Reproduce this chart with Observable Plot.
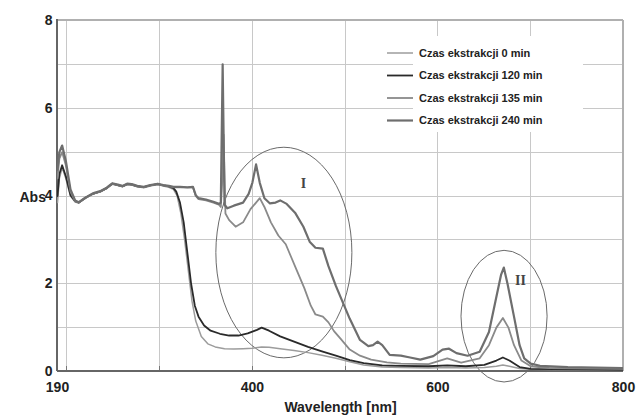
<!DOCTYPE html>
<html><head><meta charset="utf-8">
<script src="https://cdn.jsdelivr.net/npm/d3@7"></script>
<script src="https://cdn.jsdelivr.net/npm/@observablehq/plot@0.6"></script>
<style>body{margin:0;background:#fff;font-family:"Liberation Sans",Arial,sans-serif}</style>
</head><body><div id="chart"></div>
<script>
const seriesNames = ["Czas ekstrakcji 0 min","Czas ekstrakcji 120 min","Czas ekstrakcji 135 min","Czas ekstrakcji 240 min"];
const seriesColors = ["#9c9c9c","#2a2a2a","#8a8a8a","#6e6e6e"];
const seriesWidths = [1.5,1.8,1.8,2.2];

const wl0 = [190,192,195,199,204,209,213,220,228,236,243,249,255,260,265,270,276,283,290,298,304,310,315,319,323,327,331,335,339,345,352,360,370,380,390,400,410,418,430,445,460,475,490,505,520,540,560,590,610,630,650,663,670,677,688,700,750,800];
const abs0 = [3.85,4.4,4.65,4.4,4.0,3.86,3.84,3.95,4.04,4.1,4.17,4.27,4.24,4.21,4.26,4.25,4.21,4.19,4.23,4.26,4.23,4.2,4.15,4.0,3.6,3.0,2.3,1.6,1.15,0.8,0.63,0.56,0.52,0.51,0.52,0.53,0.56,0.55,0.52,0.48,0.43,0.37,0.3,0.22,0.15,0.1,0.09,0.08,0.09,0.08,0.09,0.12,0.15,0.12,0.07,0.05,0.04,0.03];

const wl120 = [190,192,195,199,204,209,213,220,228,236,243,249,255,260,265,270,276,283,290,298,304,310,315,318,322,326,330,334,338,342,348,355,365,375,385,395,405,410,418,430,445,460,475,490,505,520,540,560,590,610,630,650,663,670,677,688,700,750,800];
const abs120 = [4.0,4.5,4.7,4.45,4.02,3.88,3.85,3.96,4.05,4.1,4.18,4.28,4.25,4.22,4.27,4.26,4.22,4.2,4.24,4.27,4.24,4.22,4.18,4.1,3.85,3.4,2.7,2.0,1.5,1.25,1.05,0.93,0.86,0.82,0.82,0.87,0.95,1.0,0.93,0.8,0.68,0.56,0.46,0.36,0.26,0.19,0.14,0.13,0.12,0.14,0.12,0.15,0.25,0.32,0.25,0.1,0.06,0.05,0.04];

const wl135 = [190,192,195,199,204,209,213,220,228,236,243,249,255,260,265,270,276,283,290,298,304,310,315,322,330,336,339,342,350,358,364,366,368,369,371,375,382,390,398,404,408,413,420,428,436,441,448,456,463,468,476,482,488,495,505,516,528,545,560,590,610,625,645,655,663,670,676,682,690,700,720,800];
const abs135 = [4.4,4.85,5.0,4.7,4.1,3.88,3.85,3.95,4.05,4.1,4.18,4.28,4.25,4.22,4.27,4.26,4.22,4.2,4.24,4.27,4.24,4.22,4.2,4.2,4.19,4.2,4.0,3.93,3.9,3.85,3.8,3.75,4.5,5.4,3.6,3.45,3.3,3.4,3.7,3.85,3.95,3.75,3.4,3.1,2.9,2.65,2.3,1.9,1.5,1.3,1.25,1.12,0.92,0.75,0.5,0.36,0.27,0.21,0.18,0.17,0.3,0.2,0.3,0.6,1.0,1.22,1.0,0.6,0.25,0.12,0.08,0.06];

const wl240 = [190,192,195,199,204,209,213,220,228,236,243,249,255,260,265,270,276,283,290,298,304,310,315,322,330,336,339,342,350,358,364,366,368,370,373,380,390,396,400,404,408,413,419,425,430,437,446,455,462,468,476,482,490,496,505,516,525,530,535,540,548,560,570,581,595,605,612,620,632,645,655,662,668,671,675,682,688,693,700,710,740,800];
const abs240 = [4.6,5.0,5.15,4.8,4.15,3.9,3.86,3.96,4.06,4.11,4.19,4.29,4.26,4.23,4.28,4.27,4.23,4.21,4.25,4.28,4.25,4.23,4.21,4.21,4.2,4.21,4.02,3.95,3.92,3.87,3.82,3.85,7.0,3.8,3.72,3.78,3.85,4.05,4.3,4.72,4.3,3.95,3.83,3.85,3.9,3.82,3.62,3.3,2.95,2.82,2.8,2.4,1.95,1.65,1.2,0.72,0.58,0.6,0.68,0.6,0.38,0.36,0.32,0.27,0.35,0.5,0.52,0.42,0.36,0.45,0.9,1.6,2.2,2.37,2.0,1.25,0.6,0.3,0.18,0.13,0.1,0.08];

const xTicks = [190,400,600,800];
const yTicks = [0,2,4,6,8];
const xGrid = [200,300,400,500,600,700];
const yGrid = [1,2,3,4,5,6,7];

const ellLabels = ["I","II"];
const ellCx = [434.5, 671.8];
const ellCy = [2.7, 1.25];
const ellRx = [73.3, 46.4];
const ellRy = [2.4, 1.5];
const ellLabelX = [455, 689];
const ellLabelY = [4.28, 2.07];

const wls = [wl0, wl120, wl135, wl240];
const abss = [abs0, abs120, abs135, abs240];
const data = [];
seriesNames.forEach((s, i) => {
  const n = Math.min(wls[i].length, abss[i].length);
  for (let k = 0; k < n; k++) data.push({series: s, wl: wls[i][k], abs: abss[i][k]});
});
const ellData = ellLabels.map((l, i) => ({label: l, cx: ellCx[i], cy: ellCy[i], rx: ellRx[i], ry: ellRy[i], lx: ellLabelX[i], ly: ellLabelY[i]}));

// grid, frame and axis lines drawn through the plot's scales
const gridMark = (index, scales, values, dims) => {
  const g = d3.create("svg:g");
  const [x0, x1] = [scales.x(190), scales.x(800)];
  const [y0, y1] = [scales.y(0), scales.y(8)];
  const ln = (a, b, c, d, col, w) => g.append("line").attr("x1", a).attr("y1", b).attr("x2", c).attr("y2", d).attr("stroke", col).attr("stroke-width", w);
  for (const v of xGrid) { const x = Math.round(scales.x(v)) + 0.5; ln(x, y0, x, y1, "#c8c8c8", 1); }
  for (const v of yGrid) { const y = Math.round(scales.y(v)) + 0.5; ln(x0, y, x1, y, "#c8c8c8", 1); }
  ln(x0, y1, x1, y1, "#b0b0b0", 2);
  ln(x1, y1, x1, y0, "#b0b0b0", 2);
  for (const v of xGrid) { const x = Math.round(scales.x(v)) + 0.5; ln(x, y0, x, y0 - 5, "#777", 1); }
  ln(x0, y0, x1, y0, "#666", 2);
  ln(x0, y0, x0, y1 - 1, "#666", 2);
  return g.node();
};

const ellipseMark = (index, scales) => {
  const g = d3.create("svg:g");
  for (const e of ellData) {
    const cx = scales.x(e.cx), cy = scales.y(e.cy);
    g.append("ellipse")
      .attr("cx", cx).attr("cy", cy)
      .attr("rx", Math.abs(scales.x(e.cx + e.rx) - cx))
      .attr("ry", Math.abs(scales.y(e.cy - e.ry) - cy))
      .attr("fill", "none").attr("stroke", "#6a6a6a").attr("stroke-width", 1);
  }
  return g.node();
};

const legendMark = (index, scales, values, dims) => {
  const g = d3.create("svg:g");
  const right = dims.width - dims.marginRight;
  const top = dims.marginTop;
  g.append("rect").attr("x", right - 210).attr("y", top + 16).attr("width", 170).attr("height", 96).attr("fill", "white");
  seriesNames.forEach((s, i) => {
    const y = top + 33 + i * 22.5;
    g.append("line").attr("x1", right - 236).attr("x2", right - 210).attr("y1", y).attr("y2", y)
      .attr("stroke", seriesColors[i]).attr("stroke-width", seriesWidths[i]);
    g.append("text").attr("x", right - 204).attr("y", y).attr("dy", "0.35em")
      .attr("text-anchor", "start")
      .attr("font-size", 11).attr("font-weight", "bold").attr("fill", "#222")
      .attr("font-family", "'Liberation Sans', Arial, sans-serif").text(s);
  });
  return g.node();
};

const chart = Plot.plot({
  width: 637,
  height: 418,
  marginLeft: 57,
  marginRight: 14,
  marginTop: 20,
  marginBottom: 47,
  style: {fontFamily: "'Liberation Sans', Arial, sans-serif", background: "white", overflow: "visible"},
  x: {domain: [190, 800]},
  y: {domain: [0, 8]},
  marks: [
    gridMark,
    Plot.axisX(xTicks, {tickSize: 0, tickPadding: 11, fontSize: 14, fontWeight: "bold", fill: "#222", label: null}),
    Plot.axisY(yTicks, {tickSize: 0, tickPadding: 5, fontSize: 14, fontWeight: "bold", fill: "#222", label: null}),
    Plot.text(["Wavelength [nm]"], {frameAnchor: "bottom", dy: 40, fontSize: 14, fontWeight: "bold", fill: "#222"}),
    Plot.text(["Abs"], {frameAnchor: "left", dx: -38, dy: 2, fontSize: 14, fontWeight: "bold", fill: "#222"}),
    legendMark,
    ellipseMark,
    ...seriesNames.map((s, i) => Plot.line(data.filter(d => d.series === s), {x: "wl", y: "abs", stroke: seriesColors[i], strokeWidth: seriesWidths[i], clip: true})),
    Plot.text(ellData, {x: "lx", y: "ly", text: "label", fontFamily: "'Liberation Serif', 'DejaVu Serif', serif", fontSize: 14, fontWeight: "bold", fill: "#444"})
  ]
});
document.getElementById("chart").appendChild(chart);
</script>
</body></html>
